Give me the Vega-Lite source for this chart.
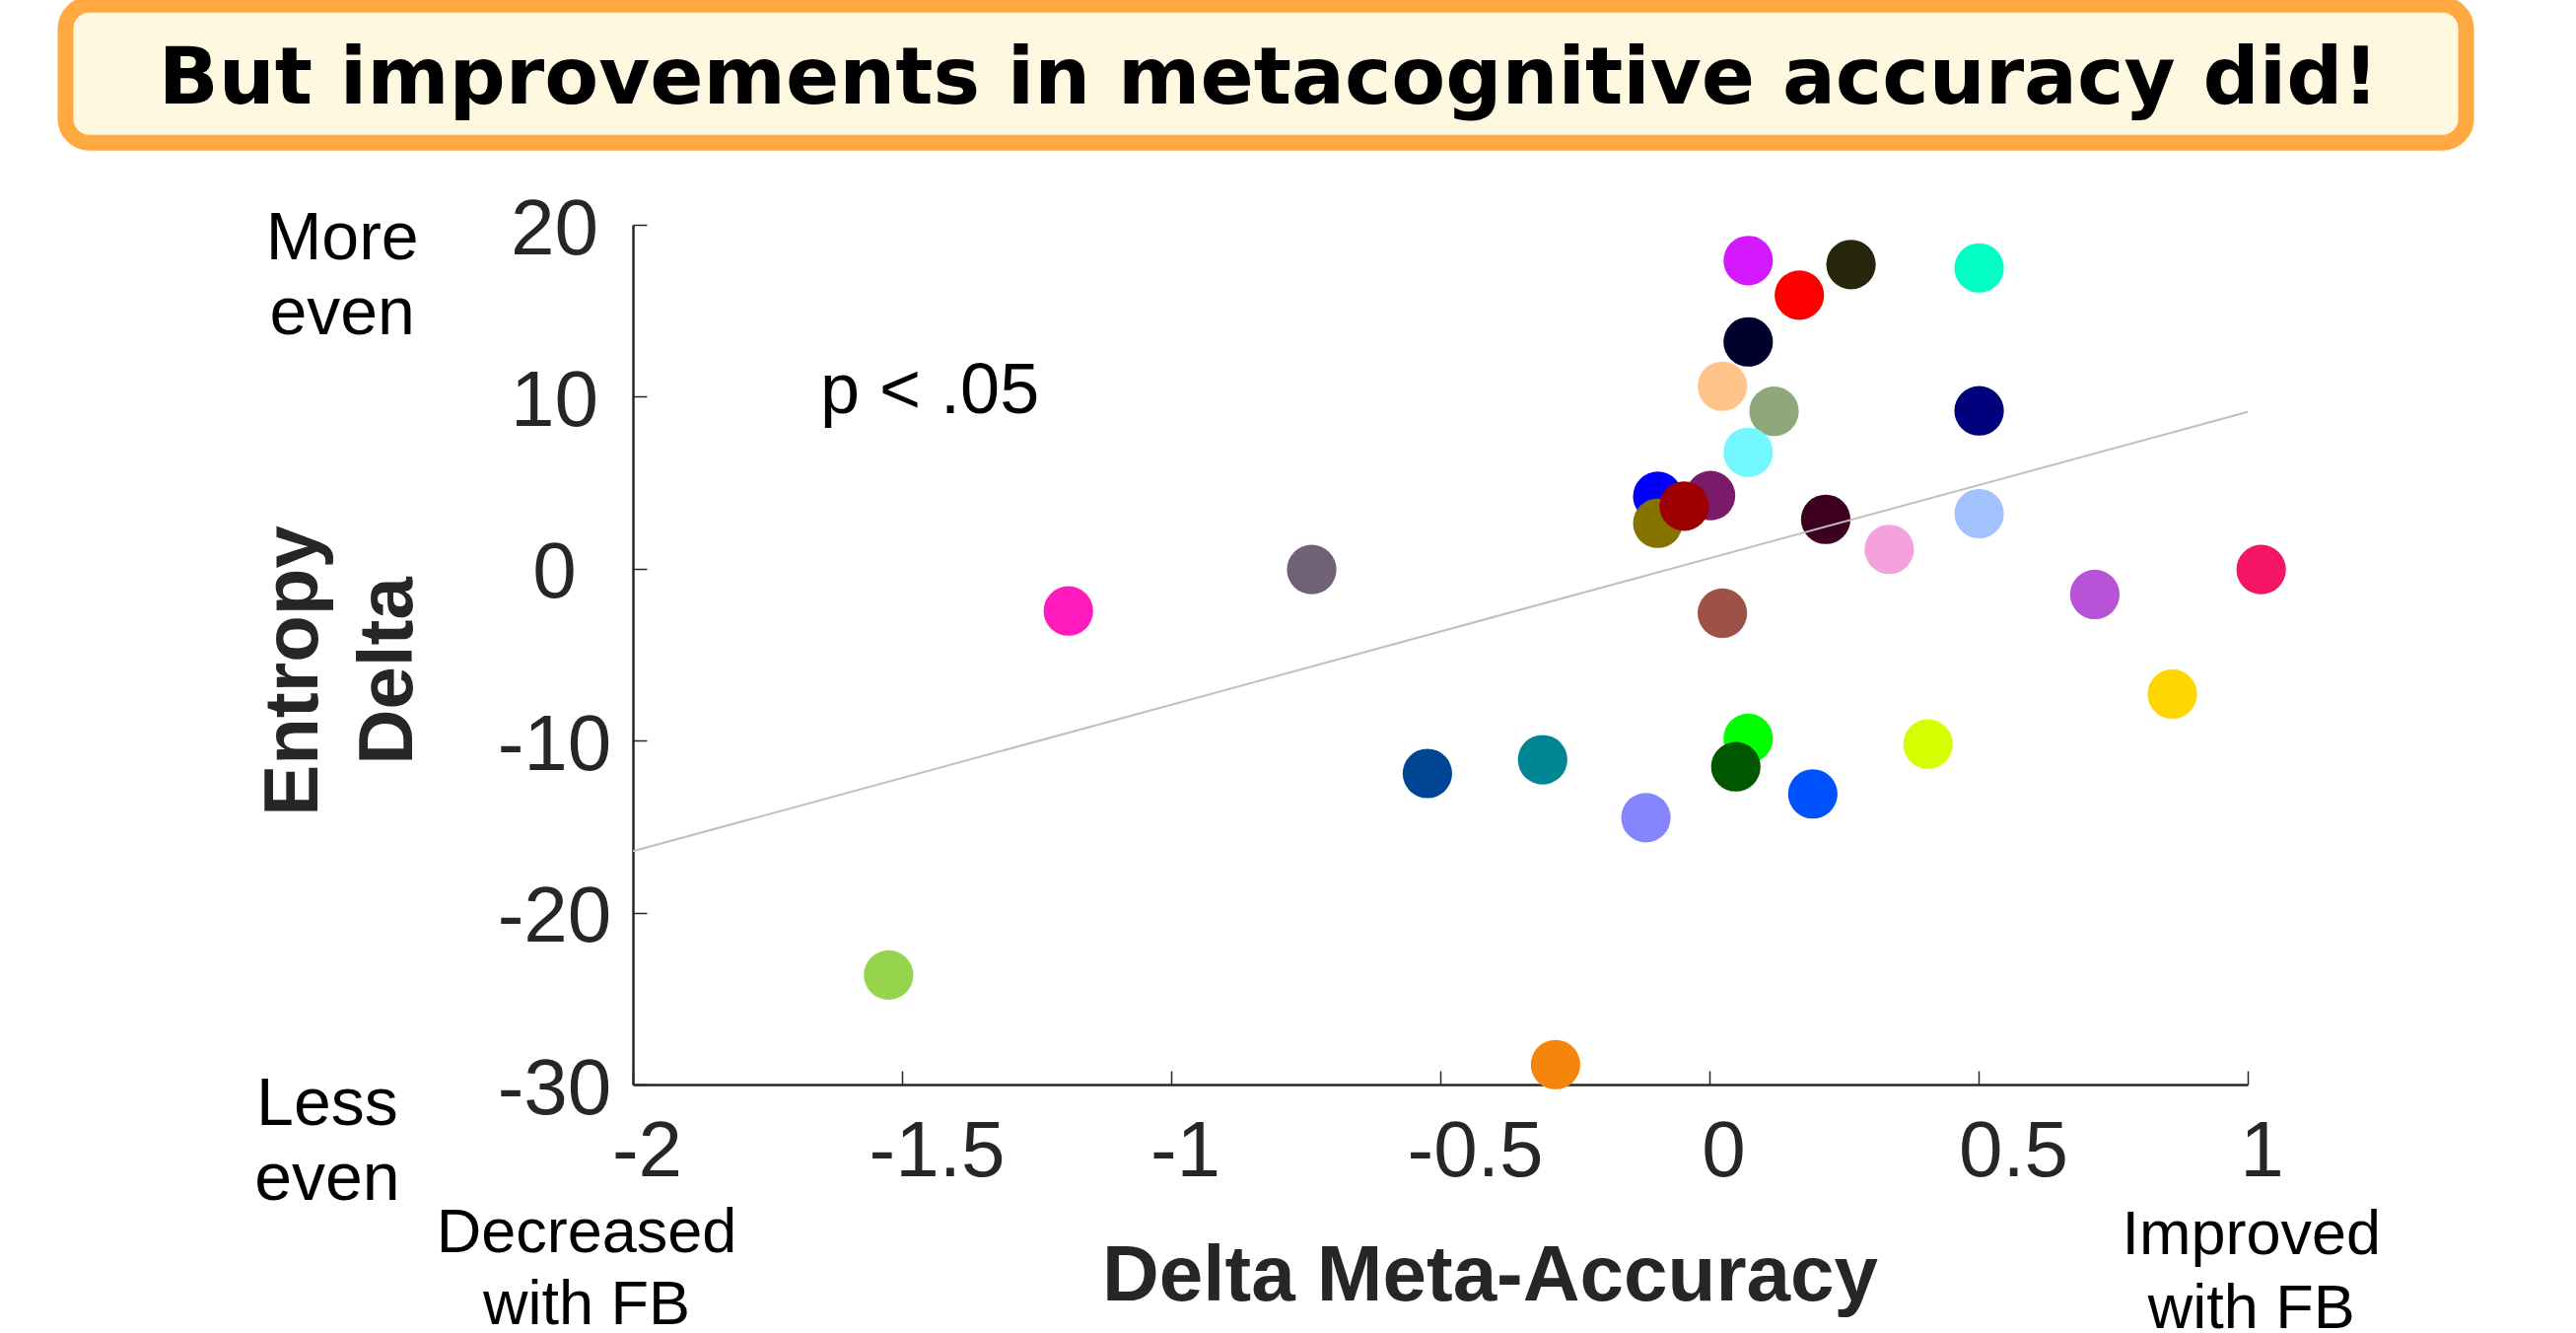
{
  "$schema": "https://vega.github.io/schema/vega-lite/v6.json",
  "width": 1638,
  "height": 872,
  "autosize": {"type": "none"},
  "padding": {"left": 642, "top": 228, "right": 333, "bottom": 252},
  "background": "white",
  "config": {"view": {"stroke": null}, "font": "Liberation Sans"},
  "layer": [
    {
      "data": {
        "values": [
          {"subject": "S01", "meta": -0.096, "entropy": 4.21},
          {"subject": "S02", "meta": -0.096, "entropy": 2.64},
          {"subject": "S03", "meta": 0.002, "entropy": 4.25},
          {"subject": "S04", "meta": -0.047, "entropy": 3.64},
          {"subject": "S05", "meta": 0.072, "entropy": 13.19},
          {"subject": "S06", "meta": 0.024, "entropy": 10.61},
          {"subject": "S07", "meta": 0.12, "entropy": 9.15},
          {"subject": "S08", "meta": 0.072, "entropy": 6.77},
          {"subject": "S09", "meta": 0.072, "entropy": 17.92},
          {"subject": "S10", "meta": 0.167, "entropy": 15.91},
          {"subject": "S11", "meta": 0.263, "entropy": 17.69},
          {"subject": "S12", "meta": 0.501, "entropy": 17.49},
          {"subject": "S13", "meta": 0.501, "entropy": 9.18},
          {"subject": "S14", "meta": 0.216, "entropy": 2.87},
          {"subject": "S15", "meta": 0.501, "entropy": 3.2},
          {"subject": "S16", "meta": 0.334, "entropy": 1.12},
          {"subject": "S17", "meta": -0.739, "entropy": -0.05},
          {"subject": "S18", "meta": -1.191, "entropy": -2.46},
          {"subject": "S19", "meta": 0.024, "entropy": -2.59},
          {"subject": "S20", "meta": 0.716, "entropy": -1.5},
          {"subject": "S21", "meta": 1.025, "entropy": -0.05},
          {"subject": "S22", "meta": 0.86, "entropy": -7.29},
          {"subject": "S23", "meta": 0.406, "entropy": -10.2},
          {"subject": "S24", "meta": 0.072, "entropy": -9.87},
          {"subject": "S25", "meta": 0.049, "entropy": -11.52},
          {"subject": "S26", "meta": 0.192, "entropy": -13.1},
          {"subject": "S27", "meta": -0.524, "entropy": -11.91},
          {"subject": "S28", "meta": -0.31, "entropy": -11.11},
          {"subject": "S29", "meta": -0.118, "entropy": -14.48},
          {"subject": "S30", "meta": -1.525, "entropy": -23.63},
          {"subject": "S31", "meta": -0.286, "entropy": -28.84}
        ]
      },
      "mark": {"type": "circle", "size": 2520, "opacity": 1},
      "encoding": {
        "x": {
          "field": "meta",
          "type": "quantitative",
          "scale": {"domain": [-2, 1], "nice": false, "zero": false},
          "axis": {
            "title": "Delta Meta-Accuracy",
            "values": [-2, -1.5, -1, -0.5, 0, 0.5, 1],
            "labelExpr": "'' + datum.value",
            "grid": false,
            "domainColor": "#262626",
            "domainWidth": 2.5,
            "tickColor": "#262626",
            "tickWidth": 1.5,
            "tickSize": -14,
            "labelFont": "Liberation Sans",
            "labelFontSize": 80,
            "labelColor": "#262626",
            "labelPadding": 43,
            "labelBaseline": "top",
            "labelAlign": "center",
            "labelOffset": {"condition": {"test": "datum.value % 1 !== 0", "value": 35}, "value": 14},
            "labelFlush": false,
            "labelOverlap": false,
            "titleFont": "Liberation Sans",
            "titleFontSize": 80,
            "titleFontWeight": "bold",
            "titleColor": "#262626",
            "titleX": 869,
            "titleY": 218,
            "titleBaseline": "alphabetic",
            "titleAlign": "center"
          }
        },
        "y": {
          "field": "entropy",
          "type": "quantitative",
          "scale": {"domain": [-30, 20], "nice": false, "zero": false},
          "axis": {
            "title": ["Entropy", "Delta"],
            "values": [-30, -20, -10, 0, 10, 20],
            "labelExpr": "'' + datum.value",
            "grid": false,
            "domainColor": "#262626",
            "domainWidth": 2.5,
            "tickColor": "#262626",
            "tickWidth": 1.5,
            "tickSize": -14,
            "labelFont": "Liberation Sans",
            "labelFontSize": 80,
            "labelColor": "#262626",
            "labelPadding": 94,
            "labelAlign": "center",
            "labelBaseline": "middle",
            "labelOffset": 5,
            "labelFlush": false,
            "labelOverlap": false,
            "titleFont": "Liberation Sans",
            "titleFontSize": 78,
            "titleFontWeight": "bold",
            "titleColor": "#262626",
            "titleAngle": -90,
            "titleX": -321,
            "titleY": 452,
            "titleBaseline": "alphabetic",
            "titleAlign": "center",
            "titleLineHeight": 96
          }
        },
        "color": {
          "field": "subject",
          "type": "nominal",
          "legend": null,
          "scale": {
            "domain": ["S01","S02","S03","S04","S05","S06","S07","S08","S09","S10","S11","S12","S13","S14","S15","S16","S17","S18","S19","S20","S21","S22","S23","S24","S25","S26","S27","S28","S29","S30","S31"],
            "range": ["#0000FF","#857300","#7A1A69","#9E0000","#00002C","#FFC48A","#8FA87A","#73F7FF","#D419FF","#FF0000","#26260C","#03FFC4","#00007D","#3D001F","#A1C2FF","#F5A1DB","#706178","#FF1ABD","#9E5247","#B852D6","#F51466","#FFD600","#D4FF00","#00FF00","#005700","#0052FF","#004594","#008594","#8585FF","#96D44D","#F5850A"]
          }
        }
      }
    },
    {
      "data": {"values": [{"meta": -2, "entropy": -16.43}, {"meta": 1, "entropy": 9.12}]},
      "mark": {"type": "line", "color": "#BFBFBF", "strokeWidth": 2},
      "encoding": {
        "x": {"field": "meta", "type": "quantitative"},
        "y": {"field": "entropy", "type": "quantitative"}
      }
    },
    {
      "data": {"values": [{}]},
      "mark": {"type": "rect", "fill": "#FFF8E1", "stroke": "#FFA940", "strokeWidth": 16, "cornerRadius": 24},
      "encoding": {
        "x": {"datum": -3.054, "type": "quantitative"},
        "x2": {"datum": 1.4057},
        "y": {"datum": 32.8, "type": "quantitative"},
        "y2": {"datum": 24.78}
      }
    },
    {
      "data": {"values": [{}]},
      "mark": {"type": "text", "text": "But improvements in metacognitive accuracy did!", "font": "DejaVu Sans", "fontSize": 80, "fontWeight": "bold", "fill": "#000000", "align": "center", "baseline": "alphabetic"},
      "encoding": {
        "x": {"datum": -0.819, "type": "quantitative"},
        "y": {"datum": 27.05, "type": "quantitative"}
      }
    },
    {
      "data": {"values": [{}]},
      "mark": {"type": "text", "text": ["More", "even"], "font": "Liberation Sans", "fontSize": 68, "lineHeight": 76, "fill": "#000000", "align": "center", "baseline": "alphabetic"},
      "encoding": {
        "x": {"datum": -2.54, "type": "quantitative"},
        "y": {"datum": 17.99, "type": "quantitative"}
      }
    },
    {
      "data": {"values": [{}]},
      "mark": {"type": "text", "text": ["Less", "even"], "font": "Liberation Sans", "fontSize": 68, "lineHeight": 76, "fill": "#000000", "align": "center", "baseline": "alphabetic"},
      "encoding": {
        "x": {"datum": -2.568, "type": "quantitative"},
        "y": {"datum": -32.35, "type": "quantitative"}
      }
    },
    {
      "data": {"values": [{}]},
      "mark": {"type": "text", "text": ["Decreased", "with FB"], "font": "Liberation Sans", "fontSize": 63, "lineHeight": 73, "fill": "#000000", "align": "center", "baseline": "alphabetic"},
      "encoding": {
        "x": {"datum": -2.086, "type": "quantitative"},
        "y": {"datum": -39.75, "type": "quantitative"}
      }
    },
    {
      "data": {"values": [{}]},
      "mark": {"type": "text", "text": ["Improved", "with FB"], "font": "Liberation Sans", "fontSize": 63, "lineHeight": 75, "fill": "#000000", "align": "center", "baseline": "alphabetic"},
      "encoding": {
        "x": {"datum": 1.007, "type": "quantitative"},
        "y": {"datum": -39.86, "type": "quantitative"}
      }
    },
    {
      "data": {"values": [{}]},
      "mark": {"type": "text", "text": "p < .05", "font": "Liberation Sans", "fontSize": 72, "fill": "#000000", "align": "left", "baseline": "alphabetic"},
      "encoding": {
        "x": {"datum": -1.652, "type": "quantitative"},
        "y": {"datum": 9.05, "type": "quantitative"}
      }
    }
  ]
}
